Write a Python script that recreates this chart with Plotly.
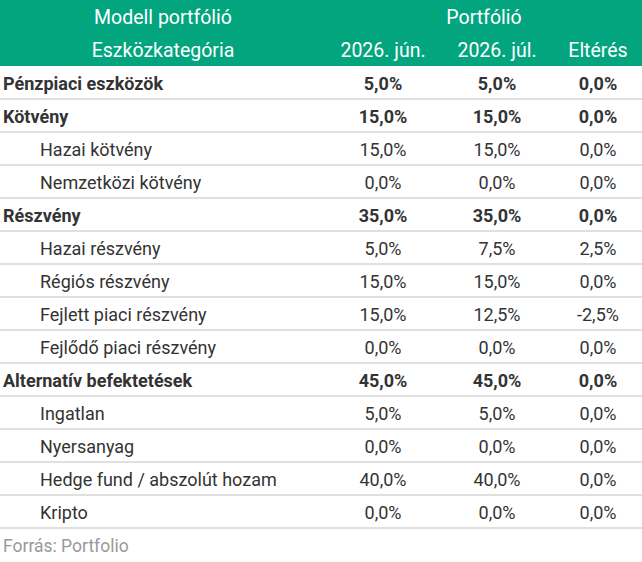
import plotly.graph_objects as go

# table data
categories = [
    "Pénzpiaci eszközök", "Kötvény", "Hazai kötvény", "Nemzetközi kötvény",
    "Részvény", "Hazai részvény", "Régiós részvény", "Fejlett piaci részvény",
    "Fejlődő piaci részvény", "Alternatív befektetések", "Ingatlan",
    "Nyersanyag", "Hedge fund / abszolút hozam", "Kripto",
]
levels = [0, 0, 1, 1, 0, 1, 1, 1, 1, 0, 1, 1, 1, 1]
jun_2026 = [5.0, 15.0, 15.0, 0.0, 35.0, 5.0, 15.0, 15.0, 0.0, 45.0, 5.0, 0.0, 40.0, 0.0]
jul_2026 = [5.0, 15.0, 15.0, 0.0, 35.0, 7.5, 15.0, 12.5, 0.0, 45.0, 5.0, 0.0, 40.0, 0.0]
elteres = [0.0, 0.0, 0.0, 0.0, 0.0, 2.5, 0.0, -2.5, 0.0, 0.0, 0.0, 0.0, 0.0, 0.0]
header_top = ["Modell portfólió", "Portfólió"]
header_cols = ["Eszközkategória", "2026. jún.", "2026. júl.", "Eltérés"]
source = "Forrás: Portfolio"

GREEN = "#03a57f"
TEXT = "#333333"
FONT = "Roboto"
SIZE = 18
HEAD_SIZE = 19.5
NUDGE = 0.08  # svg "middle" sits a bit high, push text down ~2.5 px

# x positions in pixels (x axis spans the 642 px width)
col_x = [383, 497, 598]
label_x = {0: 3, 1: 40}


def fmt(v, bold):
    s = f"{v:.1f}".replace(".", ",") + "%"
    return f"<b>{s}</b>" if bold else s


rows = list(range(len(categories)))
text_y = [r + NUDGE for r in rows]
bold = [lv == 0 for lv in levels]

fig = go.Figure()

# category labels
fig.add_trace(go.Scatter(
    x=[label_x[lv] for lv in levels], y=text_y, mode="text",
    text=[f"<b>{c}</b>" if b else c for c, b in zip(categories, bold)],
    textposition="middle right",
    textfont=dict(family=FONT, size=SIZE, color=TEXT),
    hoverinfo="skip",
))

# value columns
for cx, vals in zip(col_x, [jun_2026, jul_2026, elteres]):
    fig.add_trace(go.Scatter(
        x=[cx] * len(vals), y=text_y, mode="text",
        text=[fmt(v, b) for v, b in zip(vals, bold)],
        textposition="middle center",
        textfont=dict(family=FONT, size=SIZE, color=TEXT),
        hoverinfo="skip",
    ))

# header text (two header rows at y = -2 and -1)
fig.add_trace(go.Scatter(
    x=[163, 484] + [163] + col_x,
    y=[y + NUDGE for y in [-2, -2, -1, -1, -1, -1]], mode="text",
    text=header_top + header_cols, textposition="middle center",
    textfont=dict(family=FONT, size=HEAD_SIZE, color="white"),
    hoverinfo="skip",
))

# footer
fig.add_trace(go.Scatter(
    x=[3], y=[len(categories) + NUDGE], mode="text", text=[source],
    textposition="middle right",
    textfont=dict(family=FONT, size=17.5, color="#999999"),
    hoverinfo="skip",
))

# green header band
fig.add_shape(type="rect", xref="paper", yref="y", x0=0, x1=1, y0=-2.5, y1=-0.5,
              fillcolor=GREEN, line_width=0, layer="below")

# row separators
for i in rows:
    fig.add_shape(type="line", xref="paper", yref="y", x0=0, x1=1,
                  y0=i + 0.5, y1=i + 0.5, line=dict(color="#d6d6d6", width=1.3))

fig.update_layout(
    width=642, height=562,
    margin=dict(l=0, r=0, t=0, b=0),
    paper_bgcolor="white", plot_bgcolor="white",
    showlegend=False,
    xaxis=dict(range=[0, 642], visible=False, fixedrange=True),
    yaxis=dict(range=[(562 - 66) / 33 - 0.5, -2.5], visible=False, fixedrange=True),
)

# drop the page's default body margin so the figure sits at the window corner
fig.write_html("out.html", config={"displayModeBar": False},
               post_script="document.body.style.margin='0px';")
